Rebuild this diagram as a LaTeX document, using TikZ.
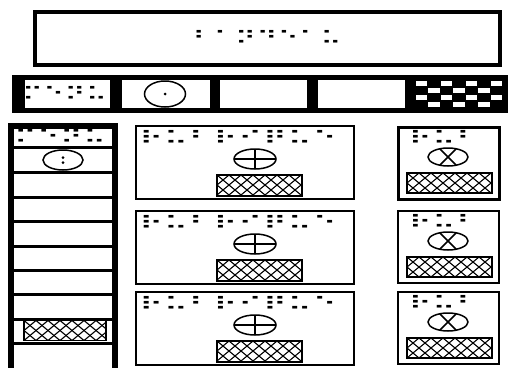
\documentclass[tikz,border=0pt]{standalone}
\usepackage{fontspec}
\newfontfamily\braillefont{DejaVu Sans}
\usetikzlibrary{shapes.geometric,calc}
\tikzset{
  thickbox/.style={draw=black, line width=4pt, fill=white, inner sep=0pt, outer sep=0pt},
  panel/.style={draw=black, line width=2.2pt, fill=white, inner sep=0pt, outer sep=0pt},
  navcell/.style={fill=white, inner sep=0pt, outer sep=0pt, minimum height=28pt},
  rowline/.style={line width=3pt},
  brl/.style={inner sep=0pt, outer sep=0pt, font=\braillefont\fontsize{18}{18}\selectfont},
  oval/.style={ellipse, draw=black, line width=1.5pt, inner sep=0pt, outer sep=0pt},
  hatchbox/.style={draw=black, line width=1.6pt, fill=white, inner sep=0pt, outer sep=0pt},
  hatchline/.style={line width=1.1pt},
  tinydot/.style={circle, fill=black, inner sep=0pt, minimum size=3pt},
}
\newcommand{\brltext}[2]{\scalebox{#1}[1]{#2}}
\newcommand{\xhatch}[1]{%
  \begin{scope}
    \clip (#1.north west) rectangle (#1.south east);
    \foreach \c in {-48,-36,...,144}{
      \draw[hatchline] ($(#1.north west)+(\c,0)$) -- ++(48,40);
      \draw[hatchline] ($(#1.north west)+(\c,0)$) -- ++(-48,40);
    }
  \end{scope}
  \draw[line width=1.6pt] (#1.north west) rectangle (#1.south east);}
\newcommand{\plus}[1]{\draw[line width=1.5pt] (#1.north) -- (#1.south) (#1.west) -- (#1.east);}
\newcommand{\cross}[1]{\draw[line width=1.5pt] (#1.135) -- (#1.-45) (#1.45) -- (#1.-135);}
\begin{document}
\begin{tikzpicture}[x=1pt,y=-1pt]
\useasboundingbox[fill=white] (0,0) rectangle (508,367);

% title banner
\node (title) [thickbox, minimum width=465pt, minimum height=53pt] at (267.5,38.5) {};
\node (titletext) [brl] at (267,37) {\brltext{1.62}{⠃⠁⠝⠙⠑⠁⠥}};

% navigation bar
\node (nav) [fill=black, inner sep=0pt, outer sep=0pt, minimum width=496pt, minimum height=38pt, anchor=north west] at (12,75) {};
\node (nav1) [navcell, minimum width=85pt] at (67.5,94) {};
\node (nav2) [navcell, minimum width=88pt] at (166,94) {};
\node (nav3) [navcell, minimum width=87pt] at (263.5,94) {};
\node (nav4) [navcell, minimum width=87pt] at (361.5,94) {};
\node (nav5) [inner sep=0pt, outer sep=0pt, fill=black, minimum width=88pt, minimum height=28pt] at (459,94) {};
\foreach \i in {0,...,6}{
  \foreach \j in {0,...,3}{
    \pgfmathtruncatemacro{\parity}{mod(\i+\j,2)}
    \ifnum\parity=0
      \fill[white] ($(nav5.north west)+(\i*12.57+0.6,\j*7+1.2)$) rectangle ++(11.4,4.6);
    \fi
  }
}
\node (navtext) [brl] at (64.5,93.5) {\brltext{1.62}{⠍⠑⠝⠥}};
\node (navoval) [oval, minimum width=41pt, minimum height=26pt] at (165,94) {};
\node (navdot) [tinydot] at (165,94) {};

% left column
\node (side) [draw=black, line width=6pt, fill=white, inner sep=0pt, outer sep=0pt, minimum width=104pt, minimum height=250pt, anchor=north west] at (11,126) {};
\foreach \y/\n in {147/r1,172/r2,197/r3,221/r4,246/r5,270/r6,294/r7,319/r8,343/r9}{
  \coordinate (\n a) at (11,\y);
  \coordinate (\n b) at (115,\y);
  \draw[rowline] (\n a) -- (\n b);
}
\node (sidetext) [brl] at (60,136) {\brltext{1.75}{⠍⠑⠝⠥}};
\node (sideoval) [oval, minimum width=40pt, minimum height=20pt] at (63,160) {};
\node (sidedot1) [tinydot] at (63,157.5) {};
\node (sidedot2) [tinydot] at (63,162.5) {};
\node (sidehatch) [hatchbox, minimum width=82pt, minimum height=20pt] at (65,330.5) {};
\xhatch{sidehatch}

% main content panels
\foreach \t/\k in {126/1,211/2,292/3}{
  \node (main\k) [panel, minimum width=218pt, minimum height=73pt, anchor=north west] at (136,\t) {};
  \node (maintext\k) [brl] at (238,\t+11) {\brltext{1.88}{⠗⠥⠃⠗⠊⠟⠥⠑}};
  \node (mainoval\k) [oval, minimum width=42pt, minimum height=20pt] at (255,\t+33) {};
  \plus{mainoval\k}
  \node (mainhatch\k) [hatchbox, minimum width=85pt, minimum height=21pt, anchor=north west] at (217,\t+49) {};
  \xhatch{mainhatch\k}
}

% aside panels
\foreach \t/\k/\w in {127/1/3,211/2/2.2,292/3/2.2}{
  \node (aside\k) [panel, line width=\w pt, minimum width=101pt, minimum height=72pt, anchor=north west] at (398,\t) {};
  \node (asidetext\k) [brl] at (444,\t+10) {\brltext{1.8}{⠗⠥⠃}};
  \node (asideoval\k) [oval, minimum width=40pt, minimum height=18pt] at (448,\t+30) {};
  \cross{asideoval\k}
  \node (asidehatch\k) [hatchbox, minimum width=85pt, minimum height=20pt, anchor=north west] at (407,\t+46) {};
  \xhatch{asidehatch\k}
}
\end{tikzpicture}
\end{document}
